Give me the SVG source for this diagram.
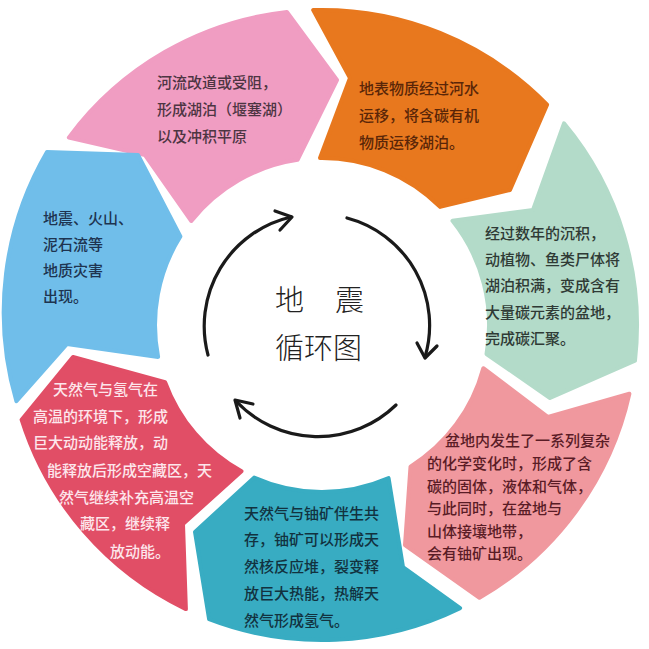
<svg xmlns="http://www.w3.org/2000/svg" width="649" height="649" viewBox="0 0 649 649">
<style>
.seg{stroke-width:4;stroke-linejoin:round}
.t{font-family:"Noto Sans CJK SC","Noto Sans",sans-serif;font-size:15px;font-weight:500}
.title{font-family:"Noto Sans CJK SC","Noto Sans",sans-serif;font-size:29px;font-weight:300;fill:#222}
.arc{fill:none;stroke:#1a1a1a;stroke-width:3.2;stroke-linecap:round;stroke-linejoin:round}
</style>
<rect width="649" height="649" fill="#ffffff"/>
<g id="node-pink">
<path class="seg" fill="#F09DC2" stroke="#F09DC2" d="M68.8,137.6 A315,315 0 0 1 286.9,12 L337,80 L297.6,159.8 A167,167 0 0 0 191.3,221 L145,155 Z"/>
<text class="t" fill="#4d3542"><tspan x="157" y="88">河流改道或受阻，</tspan><tspan x="157" y="115">形成湖泊（堰塞湖）</tspan><tspan x="157" y="142">以及冲积平原</tspan></text>
</g>
<g id="node-orange">
<path class="seg" fill="#E8781E" stroke="#E8781E" d="M313.2,10.1 A315,315 0 0 1 547.1,104.6 L510,190 L440.1,206.9 A167,167 0 0 0 320,158 L350,78 Z"/>
<text class="t" fill="#5a2608"><tspan x="359" y="94">地表物质经过河水</tspan><tspan x="359" y="121">运移，将含碳有机</tspan><tspan x="359" y="148">物质运移湖泊。</tspan></text>
</g>
<g id="node-green">
<path class="seg" fill="#B3DBC9" stroke="#B3DBC9" d="M564,123.4 A315,315 0 0 1 635,360.7 L550,398 L486.5,354 A167,167 0 0 0 452.5,220.8 L533,210 Z"/>
<text class="t" fill="#2f3a35"><tspan x="485" y="239">经过数年的沉积，</tspan><tspan x="485" y="265">动植物、鱼类尸体将</tspan><tspan x="485" y="291">湖泊积满，变成含有</tspan><tspan x="485" y="318">大量碳元素的盆地，</tspan><tspan x="485" y="344">完成碳汇聚。</tspan></text>
</g>
<g id="node-salmon">
<path class="seg" fill="#F0989E" stroke="#F0989E" d="M629.4,393.7 A315,315 0 0 1 479.5,597.8 L405,545 L410.5,466.6 A167,167 0 0 0 483.3,368.2 L548,417 Z"/>
<text class="t" fill="#5a1c26"><tspan x="445" y="446">盆地内发生了一系列复杂</tspan><tspan x="427" y="469">的化学变化时，形成了含</tspan><tspan x="427" y="492">碳的固体，液体和气体，</tspan><tspan x="427" y="514">与此同时，在盆地与</tspan><tspan x="427" y="537">山体接壤地带，</tspan><tspan x="427" y="559">会有铀矿出现。</tspan></text>
</g>
<g id="node-teal">
<path class="seg" fill="#38ACC2" stroke="#38ACC2" d="M460.1,608.1 A315,315 0 0 1 209.1,619.1 L195,532 L254.1,477.6 A167,167 0 0 0 388.6,478.2 L403,567 Z"/>
<text class="t" fill="#12323f"><tspan x="244" y="519">天然气与铀矿伴生共</tspan><tspan x="244" y="545">存，铀矿可以形成天</tspan><tspan x="244" y="572">然核反应堆，裂变释</tspan><tspan x="244" y="599">放巨大热能，热解天</tspan><tspan x="244" y="626">然气形成氢气。</tspan></text>
</g>
<g id="node-red">
<path class="seg" fill="#E14E66" stroke="#E14E66" d="M185.9,609.1 A315,315 0 0 1 21.6,419.7 L73,357 L165.1,382.1 A167,167 0 0 0 241.5,471.3 L183,524 Z"/>
<text class="t" fill="#fde6ec"><tspan x="53" y="395">天然气与氢气在</tspan><tspan x="33" y="422">高温的环境下，形成</tspan><tspan x="33" y="448">巨大动动能释放，动</tspan><tspan x="47" y="476">能释放后形成空藏区，天</tspan><tspan x="59" y="503">然气继续补充高温空</tspan><tspan x="80" y="529">藏区，继续释</tspan><tspan x="110" y="557">放动能。</tspan></text>
</g>
<g id="node-blue">
<path class="seg" fill="#70BEEA" stroke="#70BEEA" d="M16.4,401.2 A318,318 0 0 1 47,152 L138,155 L180.4,236.5 A167,167 0 0 0 158.1,356.9 L67,344 Z"/>
<text class="t" fill="#1e3450"><tspan x="43" y="224">地震、火山、</tspan><tspan x="43" y="250">泥石流等</tspan><tspan x="43" y="276">地质灾害</tspan><tspan x="43" y="302">出现。</tspan></text>
</g>
<g id="node-center">
<text class="title"><tspan x="275" y="311">地</tspan><tspan x="335" y="311">震</tspan></text>
<text class="title" x="275" y="359">循环图</text>
</g>
<g id="connectors">
<path class="arc" d="M208,355 A112,112 0 0 1 291,217"/>
<path class="arc" d="M275,211 L292,217 L280,230"/>
<path class="arc" d="M347,218 A111,111 0 0 1 425,357"/>
<path class="arc" d="M417,343 L425,358 L437,346"/>
<path class="arc" d="M396,405 A112,112 0 0 1 236,401"/>
<path class="arc" d="M253,404 L235,400 L240,418"/>
</g>
</svg>
